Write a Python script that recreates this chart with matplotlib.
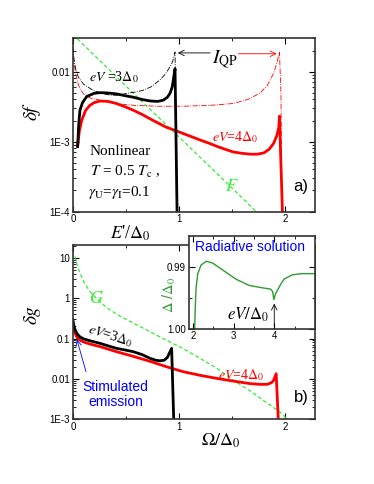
import numpy as np
import matplotlib
matplotlib.use("Agg")
import matplotlib.pyplot as plt
from matplotlib.ticker import FixedLocator, FixedFormatter, MultipleLocator, LogLocator, NullFormatter

plt.rcParams['font.family'] = ['Liberation Sans', 'DejaVu Sans']
plt.rcParams['mathtext.fontset'] = 'stix'

# panel a: delta f vs E'/Delta0
a_blk_x = [0.044, 0.055, 0.066, 0.09, 0.13, 0.2, 0.255, 0.33, 0.41, 0.5, 0.57, 0.65, 0.73, 0.8, 0.85, 0.89, 0.915, 0.935, 0.946, 0.962, 0.984]
a_blk_y = [8.5e-4, 1.8e-3, 2.8e-3, 3.6e-3, 4.4e-3, 4.9e-3, 5.0e-3, 4.95e-3, 4.8e-3, 4.5e-3, 4.3e-3, 4.0e-3, 3.8e-3, 3.75e-3, 3.9e-3, 4.3e-3, 4.9e-3, 6.0e-3, 7.6e-3, 0.011, 5e-5]
a_red_x = [0.044, 0.06, 0.082, 0.12, 0.16, 0.2, 0.255, 0.33, 0.41, 0.49, 0.57, 0.65, 0.73, 0.8, 0.88, 0.96, 1.04, 1.12, 1.2, 1.28, 1.36, 1.44, 1.51, 1.59, 1.67, 1.74, 1.80, 1.85, 1.89, 1.92, 1.94, 1.946, 1.98]
a_red_y = [8.5e-4, 1.4e-3, 2.0e-3, 2.8e-3, 3.3e-3, 3.6e-3, 3.8e-3, 3.75e-3, 3.5e-3, 3.15e-3, 2.8e-3, 2.45e-3, 2.1e-3, 1.85e-3, 1.6e-3, 1.45e-3, 1.3e-3, 1.17e-3, 1.05e-3, 9.5e-4, 8.5e-4, 7.7e-4, 7.1e-4, 6.8e-4, 6.6e-4, 6.6e-4, 6.9e-4, 7.8e-4, 9.4e-4, 1.2e-3, 1.6e-3, 2.3e-3, 5e-5]
a_qp3_x = [0.0, 0.01, 0.025, 0.05, 0.1, 0.19, 0.27, 0.35, 0.43, 0.51, 0.59, 0.66, 0.74, 0.82, 0.87, 0.915, 0.94, 0.962, 0.97, 0.98]
a_qp3_y = [0.022, 0.015, 0.011, 8.4e-3, 6.6e-3, 5.4e-3, 4.9e-3, 4.6e-3, 4.6e-3, 4.9e-3, 5.1e-3, 5.4e-3, 6.1e-3, 7.6e-3, 9.2e-3, 0.0117, 0.014, 0.019, 2e-3, 1e-5]
a_qp4_x = [0.0, 0.01, 0.025, 0.045, 0.066, 0.1, 0.16, 0.255, 0.4, 0.57, 0.8, 1.04, 1.3, 1.51, 1.65, 1.76, 1.83, 1.89, 1.92, 1.946, 1.96, 1.975]
a_qp4_y = [0.022, 0.014, 0.0095, 7e-3, 5.7e-3, 4.8e-3, 4.2e-3, 3.9e-3, 3.5e-3, 3.3e-3, 3.2e-3, 3.2e-3, 3.3e-3, 3.5e-3, 4.0e-3, 4.9e-3, 6.3e-3, 9.4e-3, 0.013, 0.019, 5e-3, 1e-5]
F_x = [0.0, 0.5, 1.0, 1.5, 1.72, 1.9]
F_y = [0.034, 6.2e-3, 1.16e-3, 2.16e-4, 1.02e-4, 5.6e-5]

# panel b: delta g vs Omega/Delta0
b_blk_x = [0.0, 0.01, 0.02, 0.04, 0.066, 0.1, 0.16, 0.255, 0.33, 0.41, 0.49, 0.57, 0.65, 0.73, 0.78, 0.82, 0.86, 0.89, 0.915, 0.93, 0.953]
b_blk_y = [0.29, 0.2, 0.166, 0.13, 0.11, 0.098, 0.088, 0.076, 0.066, 0.057, 0.052, 0.047, 0.04, 0.032, 0.029, 0.028, 0.029, 0.034, 0.047, 0.057, 5e-4]
b_red_x = [0.0, 0.01, 0.02, 0.04, 0.066, 0.1, 0.16, 0.255, 0.4, 0.57, 0.73, 0.88, 1.04, 1.2, 1.36, 1.51, 1.67, 1.76, 1.83, 1.87, 1.89, 1.915, 1.94]
b_red_y = [0.21, 0.16, 0.135, 0.105, 0.091, 0.082, 0.073, 0.063, 0.048, 0.036, 0.027, 0.02, 0.015, 0.0122, 0.0102, 8.8e-3, 7.6e-3, 7.3e-3, 7.3e-3, 8.0e-3, 9.1e-3, 0.0134, 5e-4]
G_x = [0.02, 0.04, 0.066, 0.1, 0.16, 0.25, 0.35, 0.45, 0.57, 0.7, 0.88, 1.04, 1.2, 1.36, 1.51, 1.67, 1.83, 1.95, 2.02, 2.1]
G_y = [10.8, 6.5, 4.2, 2.6, 1.47, 0.82, 0.51, 0.35, 0.24, 0.16, 0.091, 0.056, 0.032, 0.018, 9.3e-3, 5e-3, 2.5e-3, 1.5e-3, 1.0e-3, 7e-4]

# inset: gap vs eV
ins_x = [2.04, 2.06, 2.08, 2.12, 2.2, 2.33, 2.49, 2.73, 3.06, 3.38, 3.71, 3.91, 3.96, 3.99, 4.03, 4.08, 4.16, 4.24, 4.44, 4.68, 4.97]
ins_y = [1.0005, 0.996, 0.9932, 0.9911, 0.9897, 0.9891, 0.9894, 0.9905, 0.992, 0.993, 0.9934, 0.9936, 0.994, 0.9953, 0.9944, 0.9938, 0.9928, 0.992, 0.9913, 0.9911, 0.9911]

green = '#33ee33'
serif = 'Liberation Serif'

fig = plt.figure(figsize=(3.74, 4.84), dpi=100)
ax1 = fig.add_axes([0.195, 0.563, 0.647, 0.358])
ax2 = fig.add_axes([0.195, 0.134, 0.647, 0.36])
axi = fig.add_axes([0.505, 0.321, 0.337, 0.1915])

def style(ax):
    ax.tick_params(which='both', direction='in', top=True, right=True, labelsize=7, pad=2)
    ax.tick_params(which='major', length=4, width=0.8)
    ax.tick_params(which='minor', length=2, width=0.6)
    for s in ax.spines.values():
        s.set_linewidth(1.2)
        s.set_color('#333333')

# ---- panel a
ax1.semilogy(F_x, F_y, '--', color=green, lw=0.9, dashes=(3, 2))
ax1.semilogy(a_qp4_x, a_qp4_y, '-.', color='red', lw=0.6)
ax1.semilogy(a_qp3_x, a_qp3_y, '-.', color='black', lw=0.6)
ax1.semilogy(a_red_x, a_red_y, '-', color='red', lw=2.0)
ax1.semilogy(a_blk_x, a_blk_y, '-', color='black', lw=2.0)
ax1.set_xlim(0, 2.28)
ax1.set_ylim(1e-4, 0.03)
ax1.xaxis.set_major_locator(FixedLocator([0, 1, 2]))
ax1.xaxis.set_minor_locator(MultipleLocator(0.5))
ax1.yaxis.set_major_locator(FixedLocator([1e-4, 1e-3, 1e-2]))
ax1.yaxis.set_major_formatter(FixedFormatter(['1E-4', '1E-3', '0.01']))
ax1.yaxis.set_minor_locator(LogLocator(base=10, subs=np.arange(2, 10)))
ax1.yaxis.set_minor_formatter(NullFormatter())
style(ax1)
ax1.set_ylabel(r'$\delta f$', fontsize=14)
ax1.yaxis.set_label_coords(-0.125, 0.58)
ax1.set_xlabel(r"$E$'/$\Delta_0$", fontsize=13, family=serif)
ax1.xaxis.set_label_coords(0.235, -0.07)

ax1.annotate('', xy=(0.962, 0.0185), xytext=(1.32, 0.0185),
             arrowprops=dict(arrowstyle='->', color='black', lw=0.6))
ax1.annotate('', xy=(1.946, 0.018), xytext=(1.53, 0.018),
             arrowprops=dict(arrowstyle='->', color='red', lw=0.6))
ax1.text(1.43, 0.0145, r'$I_{\rm QP}$', fontsize=14, ha='center', va='center')
ax1.text(0.15, 0.0083, r'$eV$ =3$\Delta_0$', fontsize=10, family=serif, va='center')
ax1.text(1.31, 1.15e-3, r'$eV$=4$\Delta_0$', fontsize=10, family=serif, color='red', va='center')
ax1.text(0.16, 7.1e-4, 'Nonlinear', fontsize=11, family=serif, va='center')
ax1.text(0.16, 3.7e-4, r'$T$ = 0.5 $T_{\rm c}$ ,', fontsize=11, family=serif, va='center')
ax1.text(0.14, 1.9e-4, r'$\gamma_{\rm U}$=$\gamma_{\rm I}$=0.1', fontsize=11, family=serif, va='center')
ax1.text(1.43, 2.3e-4, r'$F$', fontsize=13, color=green, va='center')
ax1.text(2.08, 2.3e-4, 'a)', fontsize=12, va='center')

# ---- panel b
ax2.semilogy(G_x, G_y, '--', color=green, lw=0.9, dashes=(3, 2))
ax2.semilogy(b_red_x, b_red_y, '-', color='red', lw=2.0)
ax2.semilogy(b_blk_x, b_blk_y, '-', color='black', lw=2.0)
ax2.set_xlim(0, 2.28)
ax2.set_ylim(1e-3, 21)
ax2.xaxis.set_major_locator(FixedLocator([0, 1, 2]))
ax2.xaxis.set_minor_locator(MultipleLocator(0.5))
ax2.yaxis.set_major_locator(FixedLocator([1e-3, 1e-2, 1e-1, 1, 10]))
ax2.yaxis.set_major_formatter(FixedFormatter(['1E-3', '0.01', '0.1', '1', '10']))
ax2.yaxis.set_minor_locator(LogLocator(base=10, subs=np.arange(2, 10)))
ax2.yaxis.set_minor_formatter(NullFormatter())
style(ax2)
ax2.set_ylabel(r'$\delta g$', fontsize=14)
ax2.yaxis.set_label_coords(-0.125, 0.6)
ax2.set_xlabel(r'$\Omega/\Delta_0$', fontsize=13)
ax2.xaxis.set_label_coords(0.61, -0.07)

ax2.text(0.15, 1.0, r'$G$', fontsize=13, color=green, va='center')
ax2.text(0.12, 0.12, r'$eV$=3$\Delta_0$', fontsize=10, family=serif, va='center', rotation=-18)
ax2.text(1.37, 0.0125, r'$eV$=4$\Delta_0$', fontsize=10, family=serif, color='red', va='center')
ax2.text(2.08, 3.4e-3, 'b)', fontsize=12, va='center')
ax2.text(0.4, 4.0e-3, 'Stimulated\nemission', fontsize=10, color='blue', ha='center',
         va='center', linespacing=1.1)
ax2.annotate('', xy=(0.03, 0.11), xytext=(0.13, 0.013),
             arrowprops=dict(arrowstyle='->', color='blue', lw=0.6))

# ---- inset
axi.plot(ins_x, ins_y, '-', color='#2f9a2f', lw=1.0)
axi.set_xlim(1.9, 5.0)
axi.set_ylim(1.0, 0.985)
axi.xaxis.set_major_locator(FixedLocator([2, 3, 4]))
axi.xaxis.set_minor_locator(MultipleLocator(0.5))
axi.yaxis.set_major_locator(FixedLocator([0.99, 1.0]))
axi.yaxis.set_major_formatter(FixedFormatter(['0.99', '1.00']))
axi.yaxis.set_minor_locator(FixedLocator([0.995]))
style(axi)
axi.set_ylabel(r'$\Delta$ /$\Delta_0$', fontsize=10.5, color='#2f9a2f')
axi.yaxis.set_label_coords(-0.085, 0.36)
axi.text(3.4, 0.9868, 'Radiative solution', fontsize=10, color='blue', ha='center', va='center')
axi.text(3.35, 0.9978, r'$eV/\Delta_0$', fontsize=12, ha='center', va='center')
axi.annotate('', xy=(4.0, 0.9955), xytext=(4.0, 1.0),
             arrowprops=dict(arrowstyle='->', color='black', lw=0.6))

fig.savefig('out.png', dpi=100)
